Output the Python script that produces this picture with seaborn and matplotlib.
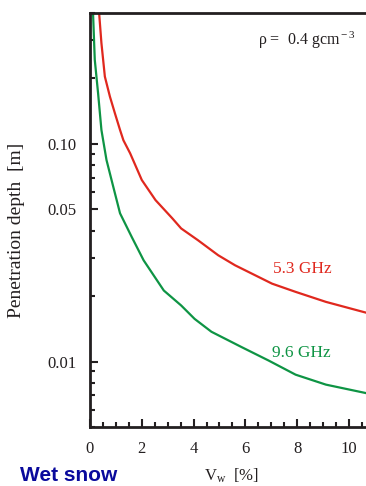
import numpy as np
import pandas as pd
import matplotlib
matplotlib.use("Agg")
import matplotlib.pyplot as plt
import seaborn as sns
from matplotlib.ticker import FixedLocator, NullFormatter, FixedFormatter

# Data
v_53 = [0.352, 0.441, 0.574, 0.770, 0.965, 1.16, 1.29, 1.55, 2.00, 2.53, 3.18, 3.52, 4.17,
        4.95, 5.60, 7.03, 7.94, 9.11, 10.8]
d_53 = [0.400, 0.291, 0.204, 0.165, 0.138, 0.116, 0.104, 0.0906, 0.0683, 0.0552, 0.0455,
        0.0409, 0.0361, 0.0308, 0.0277, 0.0228, 0.0209, 0.0188, 0.0166]
v_96 = [0.117, 0.184, 0.3125, 0.441, 0.508, 0.637, 0.898, 1.16, 1.61, 2.07, 2.85, 3.52,
        4.04, 4.69, 5.86, 6.90, 7.94, 9.11, 10.8]
d_96 = [0.400, 0.244, 0.171, 0.116, 0.104, 0.0844, 0.0636, 0.0480, 0.0374, 0.0292, 0.0212,
        0.0181, 0.0157, 0.0137, 0.01164, 0.0101, 0.0087, 0.00783, 0.00710]
series_names = ["5.3 GHz", "9.6 GHz"]
x_ticks = [0, 2, 4, 6, 8, 10]
y_ticks = [0.01, 0.05, 0.10]
y_ticklabels = ["0.01", "0.05", "0.10"]

df = pd.DataFrame({
    "Vw": v_53 + v_96,
    "depth": d_53 + d_96,
    "freq": [series_names[0]] * len(v_53) + [series_names[1]] * len(v_96),
})

sns.set_style("white")
plt.rcParams["font.family"] = ["Liberation Serif", "DejaVu Serif"]
plt.rcParams["mathtext.fontset"] = "custom"
plt.rcParams["mathtext.rm"] = "Liberation Serif"
plt.rcParams["mathtext.it"] = "Liberation Serif:italic"

RED = "#e0281e"
GREEN = "#0e9444"
INK = "#231f20"
palette = {series_names[0]: RED, series_names[1]: GREEN}

fig = plt.figure(figsize=(3.66, 4.86), dpi=100)
ax = fig.add_axes([90 / 366, 1 - 427 / 486, 1 - 90 / 366 + 0.01, (427 - 13) / 486])

sns.lineplot(data=df, x="Vw", y="depth", hue="freq", palette=palette, sort=False,
             estimator=None, linewidth=1.6, legend=False, ax=ax)

ax.set_yscale("log")
ax.set_xlim(0, 10.8)
ax.set_ylim(0.005, 0.40)

ax.xaxis.set_major_locator(FixedLocator(x_ticks))
ax.xaxis.set_minor_locator(FixedLocator(np.arange(0, 11, 0.5)))
ax.xaxis.set_major_formatter(FixedFormatter([str(t) for t in x_ticks]))
ax.yaxis.set_major_locator(FixedLocator(y_ticks))
ax.yaxis.set_major_formatter(FixedFormatter(y_ticklabels))
minor_y = [m * 10.0 ** e for e in (-3, -2, -1) for m in range(1, 10)]
minor_y = [v for v in minor_y if 0.005 <= v <= 0.4 and not any(abs(v - t) < 1e-9 for t in y_ticks)]
ax.yaxis.set_minor_locator(FixedLocator(minor_y))
ax.yaxis.set_minor_formatter(NullFormatter())

ax.tick_params(which="both", bottom=True, left=True, top=False, right=False)
ax.tick_params(which="major", direction="in", length=6, width=1.5, labelsize=12,
               colors=INK, labelcolor=INK)
ax.tick_params(which="minor", direction="in", length=3.5, width=1.5, colors=INK)
ax.tick_params(axis="y", which="major", pad=10)
ax.tick_params(axis="x", which="major", pad=10)

for s in ["left", "bottom", "top"]:
    ax.spines[s].set_linewidth(2)
    ax.spines[s].set_color(INK)
ax.spines["right"].set_visible(False)
ax.set_xlabel("")
ax.set_ylabel("")

fig.text(17 / 366, 1 - 230 / 486, "Penetration depth  [m]", rotation=90,
         ha="center", va="center", fontsize=14, color=INK)
fig.text(231 / 366, 1 - 476 / 486, r"V$_{\rm w}$  [%]", ha="center", va="center",
         fontsize=12, color=INK)
fig.text(355 / 366, 1 - 40 / 486, r"ρ =  0.4 gcm$^{\rm -3}$", ha="right", va="center",
         fontsize=11.5, color=INK)
fig.text(302 / 366, 1 - 269 / 486, series_names[0], ha="center", va="center",
         fontsize=12.5, color=RED)
fig.text(301 / 366, 1 - 353 / 486, series_names[1], ha="center", va="center",
         fontsize=12.5, color=GREEN)
fig.text(20 / 366, 1 - 475 / 486, "Wet snow", ha="left", va="center",
         fontsize=15, fontweight="bold", color="#0a0a9c",
         family=["Liberation Sans", "DejaVu Sans"])

fig.savefig("out.png", dpi=100)
